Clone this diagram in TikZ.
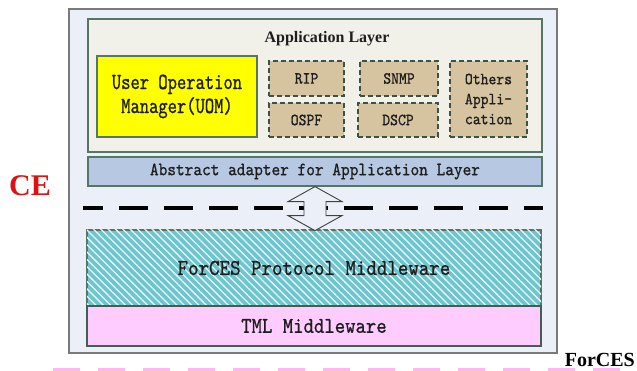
\documentclass[tikz,border=0pt]{standalone}
\usepackage{fontspec}
\setmainfont{Liberation Serif}
\newfontfamily\monoN[FakeStretch=0.88,FakeBold=0.8]{lmmono10-regular.otf}
\newfontfamily\monoU[FakeStretch=0.77,FakeBold=0.8]{lmmono10-regular.otf}
\usetikzlibrary{patterns.meta}
\definecolor{outerbg}{HTML}{EBEFF8}
\definecolor{outerln}{HTML}{7A7A7A}
\definecolor{appbg}{HTML}{F1F1EA}
\definecolor{greenln}{HTML}{557565}
\definecolor{uomyel}{HTML}{FFFF00}
\definecolor{tanbox}{HTML}{D5C49F}
\definecolor{adapt}{HTML}{B6C8E2}
\definecolor{tealbg}{HTML}{6CC5CF}
\definecolor{pinkbg}{HTML}{FFCCFF}
\definecolor{pinkdash}{HTML}{FFB8EE}
\definecolor{cered}{HTML}{E01010}
\definecolor{txt}{HTML}{1E1E1E}
\begin{document}
\begin{tikzpicture}[x=1pt,y=-1pt,
  boxbase/.style={rectangle, inner sep=0pt, text=txt, align=center},
  outerbox/.style={boxbase, draw=outerln, line width=1.6pt, fill=outerbg},
  appbox/.style={boxbase, draw=greenln, line width=1.2pt, fill=appbg},
  uombox/.style={boxbase, draw=greenln, line width=1.2pt, fill=uomyel, font=\monoU\fontsize{23}{24}\selectfont},
  protobox/.style={boxbase, draw=greenln!70!black, line width=1.1pt, dashed, dash pattern=on 5pt off 3pt, fill=tanbox, font=\monoN\fontsize{17}{20}\selectfont},
  adaptbox/.style={boxbase, draw=greenln, line width=1.2pt, fill=adapt, font=\monoN\fontsize{18.8}{22}\selectfont},
  fpmbox/.style={boxbase, draw=greenln, line width=1.2pt, fill=tealbg,
    postaction={pattern={Lines[angle=-45,distance=5.2pt,line width=1.3pt]}, pattern color=white!85!tealbg},
    font=\monoN\fontsize{22.7}{26}\selectfont},
  tmlbox/.style={boxbase, draw=greenln!80!black, line width=1.2pt, fill=pinkbg, font=\monoN\fontsize{22.5}{26}\selectfont},
  titletext/.style={inner sep=0pt, font=\bfseries\fontsize{16}{18}\selectfont, text=txt},
  sidetext/.style={inner sep=0pt, font=\bfseries\fontsize{20}{22}\selectfont, text=black},
  cetext/.style={inner sep=0pt, font=\bfseries\fontsize{30}{32}\selectfont, text=cered},
  blackdash/.style={line width=4pt, black, dash pattern=on 29pt off 16pt, dash phase=9pt},
  pinkdashes/.style={line width=8pt, pinkdash, dash pattern=on 27pt off 18pt},
  bigarrow/.style={draw=black!75, line width=0.9pt, fill=outerbg, line join=miter}
]
\useasboundingbox (0,0) rectangle (637,371);

% pink dashed boundary at the bottom
\coordinate (pd1) at (53,372);
\coordinate (pd2) at (625,372);
\draw[pinkdashes] (pd1) -- (pd2);

% outer CE box
\node[outerbox, minimum width=488, minimum height=344] (ce) at (313,181) {};

% application layer
\node[appbox, minimum width=454, minimum height=133] (app) at (315,85.5) {};
\node[titletext] (apptitle) at (327,39) {Application Layer};
\node[uombox, minimum width=160, minimum height=81] (uom) at (177,96.5) {User Operation\\Manager(UOM)};
\node[protobox, minimum width=75, minimum height=35] (rip) at (306.5,78.5) {RIP};
\node[protobox, minimum width=75, minimum height=34] (ospf) at (306.5,120) {OSPF};
\node[protobox, minimum width=78, minimum height=35] (snmp) at (399,78.5) {SNMP};
\node[protobox, minimum width=80, minimum height=34] (dscp) at (398,120) {DSCP};
\node[protobox, minimum width=77, minimum height=76] (others) at (488.5,99) {Others\\Appli-\\cation};

% abstract adapter
\node[adaptbox, minimum width=454, minimum height=29] (adapter) at (315,171.5) {Abstract adapter for Application Layer};

% dashed separator
\coordinate (dl1) at (83,208);
\coordinate (dl2) at (543,208);
\draw[blackdash] (dl1) -- (dl2);

% lower boxes
\node[fpmbox, minimum width=454, minimum height=76] (fpm) at (314,268) {ForCES Protocol Middleware};
\node[tmlbox, minimum width=454, minimum height=40] (tml) at (314,326) {TML Middleware};

% double arrow between adapter and protocol middleware
\path[bigarrow] (adapter.south) -- ++(27,15) -- ++(-16,0) -- ++(0,14) -- ++(16,0)
  -- ++(-27,15) -- ++(-27,-15) -- ++(16,0) -- ++(0,-14) -- ++(-16,0) -- cycle;

% side labels
\node[cetext] (celabel) at (30,186) {CE};
\node[sidetext, anchor=base east] (forceslabel) at (635,366) {ForCES};
\end{tikzpicture}
\end{document}
